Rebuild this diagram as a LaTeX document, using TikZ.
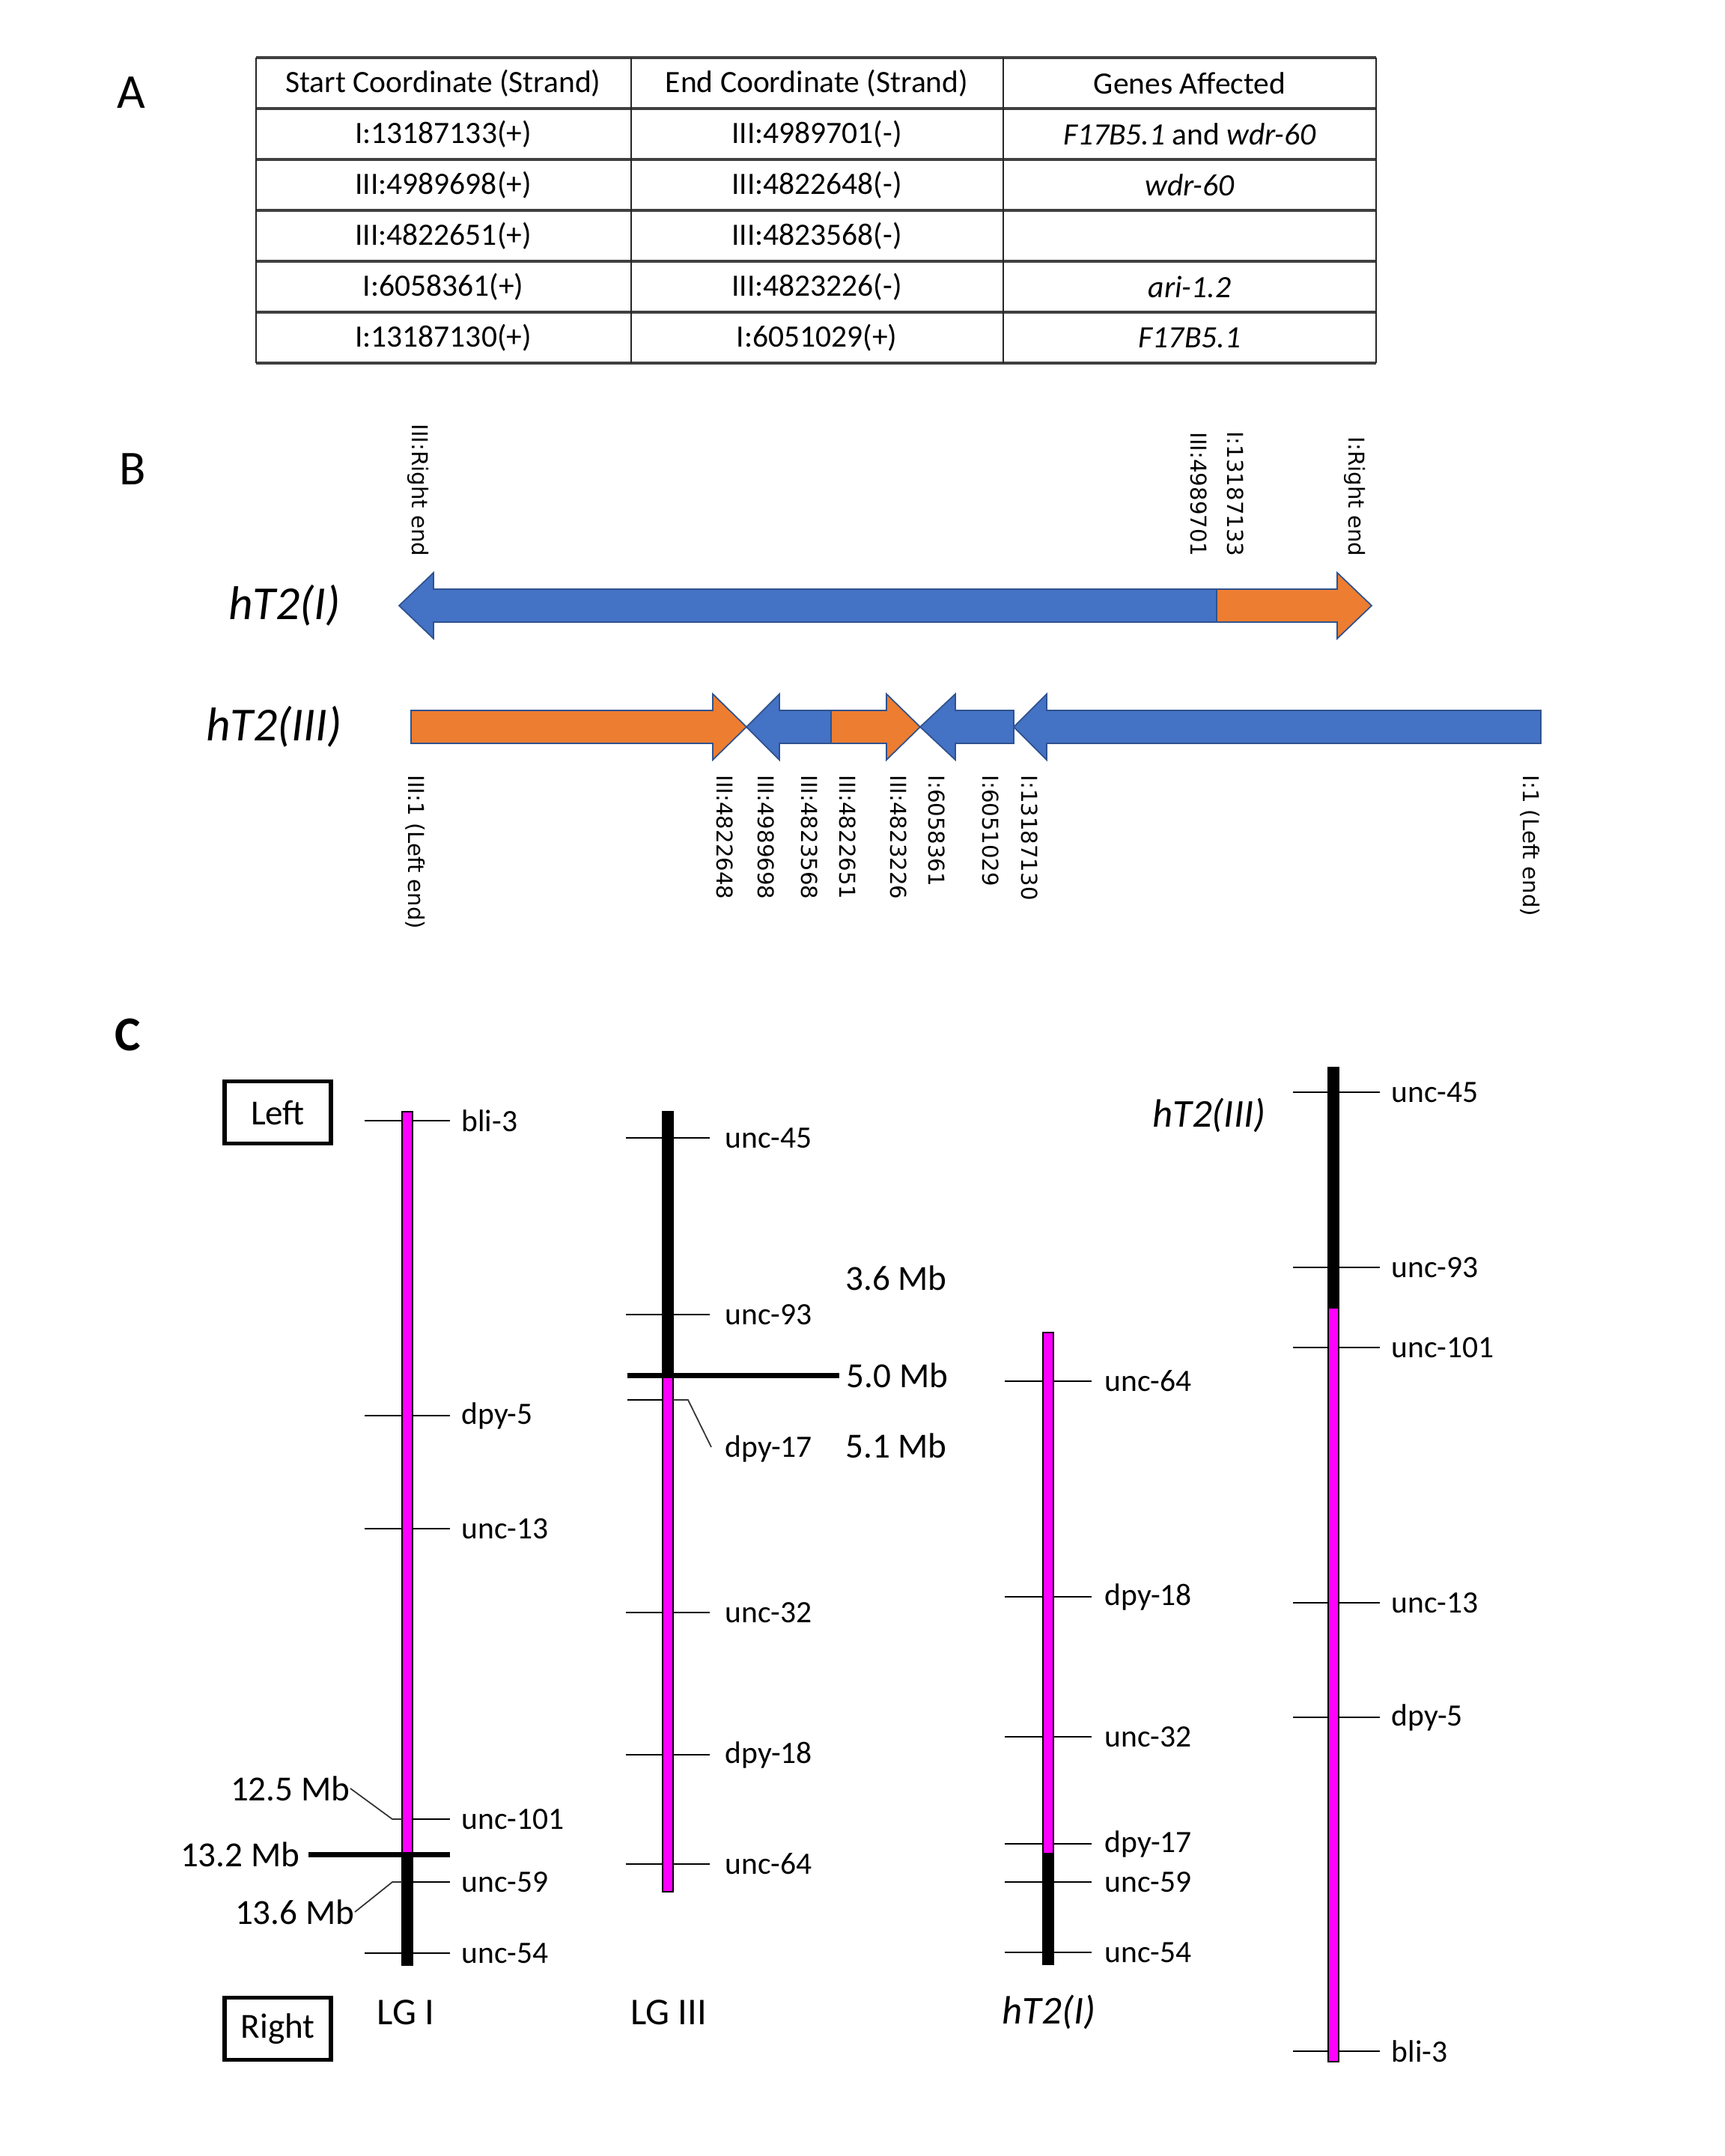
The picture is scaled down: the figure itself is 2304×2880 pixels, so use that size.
\documentclass[tikz,border=0pt]{standalone}
\usepackage{fontspec}
\setmainfont{Carlito}
\newfontfamily\vertfont{DejaVu Sans}
\definecolor{ofblue}{RGB}{68,114,196}
\definecolor{oforange}{RGB}{237,125,49}
\definecolor{ofline}{RGB}{47,82,143}
\definecolor{chrmag}{RGB}{255,0,255}
\tikzset{>=latex}

\begin{document}
\begin{tikzpicture}[x=0.01cm, y=-0.01cm,
		panel/.style={inner sep=0, font=\fontsize{18.5}{22}\selectfont},
		cell/.style={inner sep=0, font=\fontsize{11.8}{14}\selectfont},
		vlab/.style={inner sep=0, rotate=-90, font=\vertfont\fontsize{8.3}{10}\selectfont},
		chrname/.style={inner sep=0, font=\fontsize{18}{22}\selectfont\itshape},
		marker/.style={inner sep=0, anchor=west, font=\fontsize{11.8}{14}\selectfont},
		mb/.style={inner sep=0, font=\fontsize{13.4}{16}\selectfont},
		lg/.style={inner sep=0, font=\fontsize{14.4}{17}\selectfont},
		dirbox/.style={draw, line width=1.5pt, minimum width=1.42cm, minimum height=0.83cm,
			font=\fontsize{13.4}{16}\selectfont},
		piece/.style={draw=ofline, line width=0.5pt},
		chrbar/.style={draw=black, line width=0.5pt},
		tickln/.style={line width=0.7pt},
		leadln/.style={line width=0.5pt, black!80},
		cutln/.style={line width=2pt},
		rowln/.style={line width=1pt, black!75},
		colln/.style={line width=0.6pt, black!85}]
	\useasboundingbox (0,0) rectangle (2304,2880);

	% panel letters
	\node[panel] (pa) at (175,124) {A};
	\node[panel] (pb) at (177,627) {B};
	\node[panel, font=\fontsize{18.5}{22}\selectfont\bfseries] (pc) at (171,1382) {C};

	% the table
	\foreach \y in {77,145,213,281,349,417,485}
		\draw[rowln] (342,\y) -- (1838,\y);
	\foreach \x in {342,843,1340,1838}
		\draw[colln] (\x,77) -- (\x,485);

	\node[cell] (h1) at (592,111) {Start Coordinate (Strand)};
	\node[cell] (h2) at (1091,111) {End Coordinate (Strand)};
	\node[cell] (h3) at (1589,111) {Genes Affected};

	\node[cell] (s1) at (592,179) {I:13187133(+)};
	\node[cell] (e1) at (1091,179) {III:4989701(-)};
	\node[cell] (g1) at (1589,179) {\textit{F17B5.1} and \textit{wdr-60}};
	\node[cell] (s2) at (592,247) {III:4989698(+)};
	\node[cell] (e2) at (1091,247) {III:4822648(-)};
	\node[cell] (g2) at (1589,247) {\textit{wdr-60}};
	\node[cell] (s3) at (592,315) {III:4822651(+)};
	\node[cell] (e3) at (1091,315) {III:4823568(-)};
	\node[cell] (s4) at (592,383) {I:6058361(+)};
	\node[cell] (e4) at (1091,383) {III:4823226(-)};
	\node[cell] (g4) at (1589,383) {\textit{ari-1.2}};
	\node[cell] (s5) at (592,451) {I:13187130(+)};
	\node[cell] (e5) at (1091,451) {I:6051029(+)};
	\node[cell] (g5) at (1589,451) {\textit{F17B5.1}};

	% hT2(I) arrow
	\node[chrname] (ti) at (380,809) {hT2(I)};
	\draw[piece, fill=ofblue] (533,809) -- (579,765) -- (579,787) -- (1625,787)
		-- (1625,831) -- (579,831) -- (579,853) -- cycle;
	\draw[piece, fill=oforange] (1625,787) -- (1786,787) -- (1786,765) -- (1832,809)
		-- (1786,853) -- (1786,831) -- (1625,831) -- cycle;

	\node[vlab, anchor=east] (t1) at (559,744) {III:Right end};
	\node[vlab, anchor=east] (t2) at (1601,744) {III:4989701};
	\node[vlab, anchor=east] (t3) at (1650,744) {I:13187133};
	\node[vlab, anchor=east] (t4) at (1810,744) {I:Right end};

	% hT2(III) arrow
	\node[chrname] (tiii) at (366,971) {hT2(III)};
	\draw[piece, fill=oforange] (549,949) -- (952,949) -- (952,927) -- (997,971)
		-- (952,1015) -- (952,993) -- (549,993) -- cycle;
	\draw[piece, fill=ofblue] (997,971) -- (1041,927) -- (1041,949) -- (1110,949)
		-- (1110,993) -- (1041,993) -- (1041,1015) -- cycle;
	\draw[piece, fill=oforange] (1110,949) -- (1184,949) -- (1184,927) -- (1229,971)
		-- (1184,1015) -- (1184,993) -- (1110,993) -- cycle;
	\draw[piece, fill=ofblue] (1229,971) -- (1276,927) -- (1276,949) -- (1354,949)
		-- (1354,993) -- (1276,993) -- (1276,1015) -- cycle;
	\draw[piece, fill=ofblue] (1354,971) -- (1398,927) -- (1398,949) -- (2058,949)
		-- (2058,993) -- (1398,993) -- (1398,1015) -- cycle;

	\node[vlab, anchor=west] (b1) at (555,1035) {III:1 (Left end)};
	\node[vlab, anchor=west] (b2) at (968,1035) {III:4822648};
	\node[vlab, anchor=west] (b3) at (1023,1035) {III:4989698};
	\node[vlab, anchor=west] (b4) at (1081,1035) {III:4823568};
	\node[vlab, anchor=west] (b5) at (1132,1035) {III:4822651};
	\node[vlab, anchor=west] (b6) at (1200,1035) {III:4823226};
	\node[vlab, anchor=west] (b7) at (1251,1035) {I:6058361};
	\node[vlab, anchor=west] (b8) at (1323,1035) {I:6051029};
	\node[vlab, anchor=west] (b9) at (1375,1035) {I:13187130};
	\node[vlab, anchor=west] (b10) at (2044,1035) {I:1 (Left end)};

	% Left and Right boxes
	\node[dirbox] (lbox) at (371,1486) {Left};
	\node[dirbox] (rbox) at (371,2710) {Right};

	% LG I
	\foreach \y/\g in {1497/bli-3, 1891/dpy-5, 2042/unc-13, 2609/unc-54} {
		\draw[tickln] (487,\y) -- (601,\y);
		\node[marker] (lgi\g) at (616,\y) {\g};
	}
	\foreach \y/\g in {2430/unc-101, 2514/unc-59} {
		\draw[tickln] (544,\y) -- (601,\y);
		\node[marker] (lgi\g) at (616,\y) {\g};
	}
	\draw[chrbar, fill=chrmag] (537,1485) rectangle (551,2477);
	\draw[chrbar, fill=black] (537,2477) rectangle (551,2625);
	\node[mb, anchor=east] (m125) at (468,2389) {12.5 Mb};
	\node[mb, anchor=east] (m132) at (401,2477) {13.2 Mb};
	\node[mb, anchor=east] (m136) at (474,2554) {13.6 Mb};
	\coordinate (k125) at (524,2430);
	\coordinate (e125) at (537,2430);
	\coordinate (k136) at (524,2514);
	\coordinate (e136) at (537,2514);
	\draw[leadln] (m125.east) -- (k125) -- (e125);
	\draw[leadln] (m136.east) -- (k136) -- (e136);
	\coordinate (c132) at (601,2477);
	\draw[cutln] (m132.east) ++(11,0) -- (c132);
	\node[lg] (lgi) at (542,2688) {LG I};

	% LG III
	\foreach \y/\g in {1520/unc-45, 1756/unc-93, 2154/unc-32, 2344/dpy-18, 2490/unc-64} {
		\draw[tickln] (836,\y) -- (948,\y);
		\node[marker] (lgiii\g) at (968,\y) {\g};
	}
	\draw[tickln] (838,1870) -- (892,1870);
	\draw[chrbar, fill=black] (885,1485) rectangle (899,1837);
	\draw[chrbar, fill=chrmag] (885,1837) rectangle (899,2527);
	\node[marker] (dpy17) at (968,1935) {dpy-17};
	\coordinate (k17) at (919,1870);
	\coordinate (e17) at (899,1870);
	\draw[leadln] (e17) -- (k17) -- (950,1933);
	\node[mb, anchor=west] (m50) at (1130,1837) {5.0 Mb};
	\coordinate (c50) at (838,1837);
	\draw[cutln] (c50) -- ([xshift=-0.09cm]m50.west);
	\node[mb] (m36) at (1197,1707) {3.6 Mb};
	\node[mb] (m51) at (1197,1931) {5.1 Mb};
	\node[lg] (lgiii) at (893,2688) {LG III};

	% hT2(I)
	\foreach \y/\g in {1845/unc-64, 2133/dpy-18, 2320/unc-32, 2463/dpy-17, 2514/unc-59, 2608/unc-54} {
		\draw[tickln] (1342,\y) -- (1458,\y);
		\node[marker] (hi\g) at (1475,\y) {\g};
	}
	\draw[chrbar, fill=chrmag] (1393,1780) rectangle (1407,2476);
	\draw[chrbar, fill=black] (1393,2476) rectangle (1407,2624);
	\node[lg, font=\fontsize{15}{18}\selectfont\itshape] (hti) at (1401,2688) {hT2(I)};

	% hT2(III)
	\foreach \y/\g in {1459/unc-45, 1693/unc-93, 1800/unc-101, 2141/unc-13, 2294/dpy-5, 2740/bli-3} {
		\draw[tickln] (1727,\y) -- (1843,\y);
		\node[marker] (hiii\g) at (1858,\y) {\g};
	}
	\draw[chrbar, fill=black] (1774,1426) rectangle (1788,1747);
	\draw[chrbar, fill=chrmag] (1774,1747) rectangle (1788,2754);
	\node[lg, font=\fontsize{15}{18}\selectfont\itshape] (htiii) at (1615,1490) {hT2(III)};
\end{tikzpicture}
\end{document}
